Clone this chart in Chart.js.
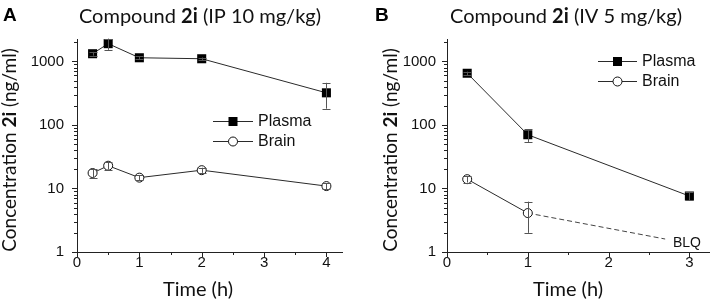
<!DOCTYPE html>
<html><head><meta charset="utf-8">
<script src="https://cdn.jsdelivr.net/npm/chart.js@4/dist/chart.umd.min.js"></script>
<style>
html,body{margin:0;padding:0;background:#fff;overflow:hidden}
#wrap{position:relative;width:716px;height:307px}
canvas{position:absolute;top:0}
</style></head>
<body><div id="wrap">
<canvas id="cA" width="358" height="307" style="left:0"></canvas>
<canvas id="cB" width="358" height="307" style="left:358px"></canvas>
</div>
<script>
// ---- data ----
const timesA = [0.25, 0.5, 1, 2, 4];
const plasmaA = [1320, 1900, 1140, 1100, 320];
const plasmaSdA = [90, 380, 60, 50, 140];
const brainA = [17.5, 22.8, 14.8, 19.4, 10.9];
const brainSdA = [3, 3, 1.2, 1.8, 1.1];

const timesB = [0.25, 1, 3];
const plasmaB = [650, 70, 7.6];
const plasmaSdB = [40, 16, 1.1];
const timesBrainB = [0.25, 1];
const brainB = [14, 4.1];
const brainSdB = [1.6, 2.1];
const blqTimes = [1, 2.7];
const blqValues = [4.1, 1.6];

const yTickValues = [1, 10, 100, 1000];
const xTickValuesA = [0, 1, 2, 3, 4];
const xTickValuesB = [0, 1, 2, 3];
const seriesNames = ['Plasma', 'Brain'];

// ---- styling ----
const FT = 'Lato, "Open Sans", sans-serif';
const FN = '"Liberation Sans", Arial, sans-serif';
const LINE = '#2a2a2a';
const ERR = '#555';

const panelCfg = {
  cA: { letter: 'A', letterX: 3, title: ['Compound ', '2i', ' (IP 10 mg/kg)'], titleCX: 200,
        yTitleX: 16, xTitleCX: 198, legend: { x1: 213, x2: 253, mx: 233, tx: 258, y: [121, 141] } },
  cB: { letter: 'B', letterX: 17, title: ['Compound ', '2i', ' (IV 5 mg/kg)'], titleCX: 208,
        yTitleX: 39, xTitleCX: 210, legend: { x1: 240, x2: 279, mx: 259.5, tx: 284, y: [61, 81] },
        blq: { text: 'BLQ', x: 315, y: 247 } }
};

function zip(xs, ys) { return xs.map((x, i) => ({ x: x, y: ys[i] })); }

function rich(ctx, segs, cx, cy, rot, size) {
  let w = 0;
  const ws = segs.map((t, i) => { ctx.font = (i === 1 ? 'bold ' : '') + size + 'px ' + FT; const m = ctx.measureText(t).width; w += m; return m; });
  ctx.save(); ctx.translate(cx, cy); ctx.rotate(rot);
  ctx.textAlign = 'left'; ctx.textBaseline = 'alphabetic'; ctx.fillStyle = '#111';
  let x = -w / 2;
  segs.forEach((t, i) => { ctx.font = (i === 1 ? 'bold ' : '') + size + 'px ' + FT; ctx.fillText(t, x, 0); x += ws[i]; });
  ctx.restore();
}

function seg(ctx, x1, y1, x2, y2) { ctx.beginPath(); ctx.moveTo(x1, y1); ctx.lineTo(x2, y2); ctx.stroke(); }

const extras = {
  id: 'extras',
  afterDatasetsDraw(chart) {
    const ctx = chart.ctx, xs = chart.scales.x, ys = chart.scales.y;
    ctx.save(); ctx.strokeStyle = ERR; ctx.lineWidth = 1;
    chart.data.datasets.forEach(ds => {
      if (!ds.errors) return;
      ds.data.forEach((p, i) => {
        const e = ds.errors[i]; if (!e) return;
        const px = Math.round(xs.getPixelForValue(p.x)) + 0.5;
        const hi = ys.getPixelForValue(p.y + e);
        const lo = ys.getPixelForValue(Math.max(p.y - e, 0.01));
        seg(ctx, px, hi, px, lo);
        seg(ctx, px - 4, Math.round(hi) + 0.5, px + 4, Math.round(hi) + 0.5);
        seg(ctx, px - 4, Math.round(lo) + 0.5, px + 4, Math.round(lo) + 0.5);
      });
    });
    ctx.restore();
  },
  afterDraw(chart) {
    const cfg = panelCfg[chart.canvas.id];
    const ctx = chart.ctx, xs = chart.scales.x, ys = chart.scales.y, ca = chart.chartArea;
    ctx.save();
    // minor / major tick marks
    ctx.strokeStyle = '#222'; ctx.lineWidth = 1;
    for (let d = 1; d <= 1000; d *= 10) {
      for (let k = 1; k <= 9; k++) {
        const v = k * d; if (v > ys.max) break;
        const p = Math.round(ys.getPixelForValue(v)) + 0.5;
        const len = k === 1 ? 5 : 3;
        seg(ctx, ca.left - len, p, ca.left, p);
      }
    }
    for (let v = 0; v <= xs.max + 1e-9; v += 0.5) {
      const p = Math.round(xs.getPixelForValue(v)) + 0.5;
      const len = Number.isInteger(v) ? 5 : 3;
      seg(ctx, p, ca.bottom, p, ca.bottom + len);
    }
    // panel letter
    ctx.fillStyle = '#000'; ctx.textAlign = 'left'; ctx.textBaseline = 'alphabetic';
    ctx.font = 'bold 19px ' + FN; ctx.fillText(cfg.letter, cfg.letterX, 21);
    // title
    rich(ctx, cfg.title, cfg.titleCX, 23, 0, 20);
    // y title
    rich(ctx, ['Concentration ', '2i', ' (ng/ml)'], cfg.yTitleX, 150, -Math.PI / 2, 19);
    // x title
    rich(ctx, ['Time (h)', '', ''], cfg.xTitleCX, 296, 0, 20);
    // legend
    const L = cfg.legend;
    chart.data.datasets.slice(0, 2).forEach((ds, i) => {
      const y = L.y[i];
      ctx.strokeStyle = LINE; ctx.lineWidth = 1;
      seg(ctx, L.x1, y + 0.5, L.x2, y + 0.5);
      if (i === 0) { ctx.fillStyle = '#000'; ctx.fillRect(L.mx - 4.5, y - 4, 9, 9); }
      else { ctx.beginPath(); ctx.arc(L.mx, y + 0.5, 4.5, 0, Math.PI * 2); ctx.fillStyle = '#fff'; ctx.fill(); ctx.strokeStyle = '#111'; ctx.stroke(); }
      ctx.fillStyle = '#111'; ctx.font = '16px ' + FN; ctx.textBaseline = 'middle'; ctx.textAlign = 'left';
      ctx.fillText(ds.label, L.tx, y + 1);
    });
    if (cfg.blq) {
      ctx.fillStyle = '#111'; ctx.font = '14px ' + FN; ctx.textBaseline = 'alphabetic';
      ctx.fillText(cfg.blq.text, cfg.blq.x, cfg.blq.y);
    }
    ctx.restore();
  }
};

function makeChart(id, datasets, xMax, xTicks, yPad, rightPad, yWidth) {
  return new Chart(document.getElementById(id), {
    type: 'scatter',
    data: { datasets: datasets },
    plugins: [extras],
    options: {
      responsive: false, animation: false, devicePixelRatio: 1,
      layout: { padding: { left: 0, right: rightPad, top: 39, bottom: 0 } },
      plugins: { legend: { display: false }, tooltip: { enabled: false } },
      scales: {
        x: {
          type: 'linear', min: 0, max: xMax,
          afterFit(s) { s.height = 55; },
          afterBuildTicks(s) { s.ticks = xTicks.map(v => ({ value: v })); },
          grid: { display: false, drawTicks: false },
          border: { display: true, color: '#222', width: 1 },
          ticks: { padding: 2, color: '#111', font: { family: FN, size: 15 }, callback: v => String(v) }
        },
        y: {
          type: 'logarithmic', min: 1, max: 2250,
          afterFit(s) { s.width = yWidth; },
          afterBuildTicks(s) { s.ticks = yTickValues.map(v => ({ value: v })); },
          grid: { display: false, drawTicks: false },
          border: { display: true, color: '#222', width: 1 },
          ticks: { padding: yPad, color: '#111', font: { family: FN, size: 15 }, callback: v => String(v) }
        }
      }
    }
  });
}

const sq = { pointStyle: 'rect', pointRadius: 6.4, pointBackgroundColor: '#000', pointBorderColor: '#000', pointBorderWidth: 0 };
const ci = { pointStyle: 'circle', pointRadius: 4.5, pointBackgroundColor: '#fff', pointBorderColor: '#111', pointBorderWidth: 1 };

makeChart('cA', [
  Object.assign({ label: seriesNames[0], data: zip(timesA, plasmaA), errors: plasmaSdA, showLine: true, borderColor: LINE, borderWidth: 1 }, sq),
  Object.assign({ label: seriesNames[1], data: zip(timesA, brainA), errors: brainSdA, showLine: true, borderColor: LINE, borderWidth: 1 }, ci)
], 4.25, xTickValuesA, 13, 16, 77);

makeChart('cB', [
  Object.assign({ label: seriesNames[0], data: zip(timesB, plasmaB), errors: plasmaSdB, showLine: true, borderColor: LINE, borderWidth: 1 }, sq),
  Object.assign({ label: seriesNames[1], data: zip(timesBrainB, brainB), errors: brainSdB, showLine: true, borderColor: LINE, borderWidth: 1 }, ci),
  { label: 'BLQ', data: zip(blqTimes, blqValues), showLine: true, borderColor: '#444', borderWidth: 1, borderDash: [5, 3], pointRadius: 0 }
], 3.25, xTickValuesB, 11, 2, 89);
</script>
</body></html>
